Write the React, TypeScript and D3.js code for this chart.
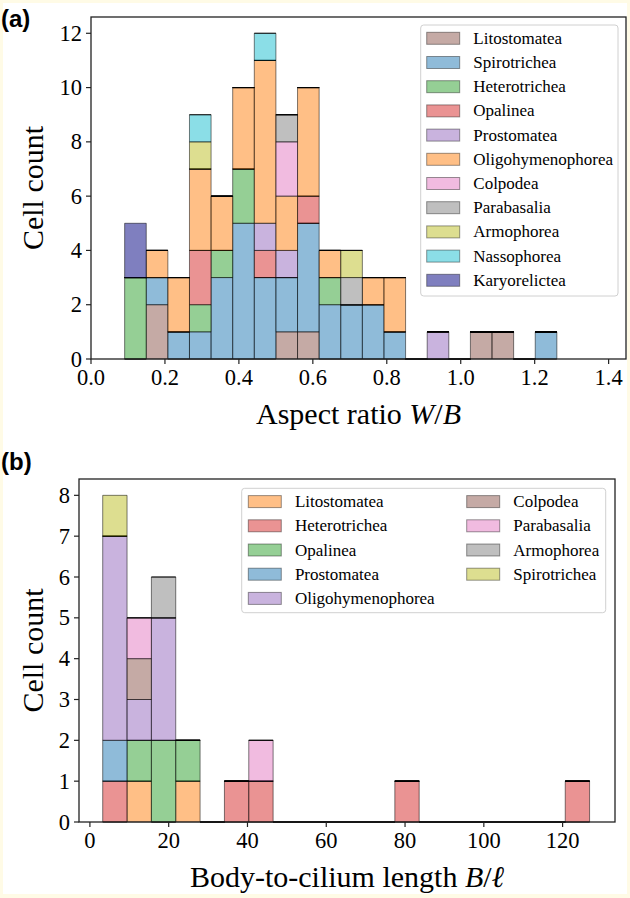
import * as d3 from 'd3'

const W = 630
const H = 898
const SERIF = "'Liberation Serif', 'DejaVu Serif', serif"
const SANS = "'Liberation Sans', Arial, sans-serif"

// panel (a): aspect ratio histogram, 20 bins
const A_CLASSES = [
  'Litostomatea', 'Spirotrichea', 'Heterotrichea', 'Opalinea', 'Prostomatea',
  'Oligohymenophorea', 'Colpodea', 'Parabasalia', 'Armophorea', 'Nassophorea', 'Karyorelictea',
]
const A_COLORS = [
  '#8c564b', '#1f77b4', '#2ca02c', '#d62728', '#9467bd',
  '#ff7f0e', '#e377c2', '#7f7f7f', '#bcbd22', '#17becf', '#000080',
]
const A_COUNTS = [
  [0, 2, 0, 0, 0, 0, 0, 1, 1, 0, 0, 0, 0, 0, 0, 0, 1, 1, 0, 0],
  [0, 1, 1, 1, 3, 5, 3, 2, 4, 2, 2, 2, 1, 0, 0, 0, 0, 0, 0, 1],
  [3, 0, 0, 1, 1, 2, 0, 0, 0, 1, 0, 0, 0, 0, 0, 0, 0, 0, 0, 0],
  [0, 0, 0, 2, 0, 0, 1, 0, 1, 0, 0, 0, 0, 0, 0, 0, 0, 0, 0, 0],
  [0, 0, 0, 0, 0, 0, 1, 1, 0, 0, 0, 0, 0, 0, 1, 0, 0, 0, 0, 0],
  [0, 1, 2, 3, 2, 3, 6, 2, 4, 1, 0, 1, 2, 0, 0, 0, 0, 0, 0, 0],
  [0, 0, 0, 0, 0, 0, 0, 2, 0, 0, 0, 0, 0, 0, 0, 0, 0, 0, 0, 0],
  [0, 0, 0, 0, 0, 0, 0, 1, 0, 0, 1, 0, 0, 0, 0, 0, 0, 0, 0, 0],
  [0, 0, 0, 1, 0, 0, 0, 0, 0, 0, 1, 0, 0, 0, 0, 0, 0, 0, 0, 0],
  [0, 0, 0, 1, 0, 0, 1, 0, 0, 0, 0, 0, 0, 0, 0, 0, 0, 0, 0, 0],
  [2, 0, 0, 0, 0, 0, 0, 0, 0, 0, 0, 0, 0, 0, 0, 0, 0, 0, 0, 0],
]
const A_BIN_RANGE: [number, number] = [0.091, 1.26]
const A_XTICKS = [0, 0.2, 0.4, 0.6, 0.8, 1.0, 1.2, 1.4]
const A_YTICKS = [0, 2, 4, 6, 8, 10, 12]

// panel (b): body-to-cilium length histogram, 20 bins
const B_CLASSES = [
  'Litostomatea', 'Heterotrichea', 'Opalinea', 'Prostomatea', 'Oligohymenophorea',
  'Colpodea', 'Parabasalia', 'Armophorea', 'Spirotrichea',
]
const B_COLORS = [
  '#ff7f0e', '#d62728', '#2ca02c', '#1f77b4', '#9467bd',
  '#8c564b', '#e377c2', '#7f7f7f', '#bcbd22',
]
const B_COUNTS = [
  [0, 1, 0, 1, 0, 0, 0, 0, 0, 0, 0, 0, 0, 0, 0, 0, 0, 0, 0, 0],
  [1, 0, 0, 0, 0, 1, 1, 0, 0, 0, 0, 0, 1, 0, 0, 0, 0, 0, 0, 1],
  [0, 1, 2, 1, 0, 0, 0, 0, 0, 0, 0, 0, 0, 0, 0, 0, 0, 0, 0, 0],
  [1, 0, 0, 0, 0, 0, 0, 0, 0, 0, 0, 0, 0, 0, 0, 0, 0, 0, 0, 0],
  [5, 1, 3, 0, 0, 0, 0, 0, 0, 0, 0, 0, 0, 0, 0, 0, 0, 0, 0, 0],
  [0, 1, 0, 0, 0, 0, 0, 0, 0, 0, 0, 0, 0, 0, 0, 0, 0, 0, 0, 0],
  [0, 1, 0, 0, 0, 0, 1, 0, 0, 0, 0, 0, 0, 0, 0, 0, 0, 0, 0, 0],
  [0, 0, 1, 0, 0, 0, 0, 0, 0, 0, 0, 0, 0, 0, 0, 0, 0, 0, 0, 0],
  [1, 0, 0, 0, 0, 0, 0, 0, 0, 0, 0, 0, 0, 0, 0, 0, 0, 0, 0, 0],
]
const B_BIN_RANGE: [number, number] = [3.25, 126.85]
const B_XTICKS = [0, 20, 40, 60, 80, 100, 120]
const B_YTICKS = [0, 1, 2, 3, 4, 5, 6, 7, 8]

interface Frame { left: number; right: number; top: number; bottom: number }
interface LegendSpec { x: number; y: number; w: number; h: number; rows: number; colX: number[] }

interface PanelProps {
  frame: Frame
  xDomain: [number, number]
  yDomain: [number, number]
  classes: string[]
  colors: string[]
  counts: number[][]
  binRange: [number, number]
  xTicks: number[]
  yTicks: number[]
  xFormat: (v: number) => string
  xLabel: React.ReactNode
  legend: LegendSpec
  tag: string
  tagY: number
}

const TICK = 5
const TICK_FONT = 22.5
const LABEL_FONT = 30
const LEGEND_FONT = 17
const ROW_H = 24.2

function Panel(p: PanelProps) {
  const { frame: f } = p
  const x = d3.scaleLinear().domain(p.xDomain).range([f.left, f.right])
  const y = d3.scaleLinear().domain(p.yDomain).range([f.bottom, f.top])
  const nBins = p.counts[0].length
  const edges = d3.range(nBins + 1).map((i) => p.binRange[0] + ((p.binRange[1] - p.binRange[0]) * i) / nBins)

  const rows = d3.range(nBins).map((i) => {
    const r: Record<string, number> = {}
    p.classes.forEach((c, k) => (r[c] = p.counts[k][i]))
    return r
  })
  const stacked = d3.stack<Record<string, number>>().keys(p.classes)(rows)

  return (
    <g>
      <text x={1} y={p.tagY} fontFamily={SANS} fontWeight="bold" fontSize={24} fill="#000">{p.tag}</text>
      {/* stacked bars, one layer per class, zero-height ones still stroke the top */}
      {stacked.map((layer, k) => (
        <g key={k}>
          {layer.map((d, i) => {
            const x0 = x(edges[i])
            const x1 = x(edges[i + 1])
            const y0 = y(d[0])
            const y1 = y(d[1])
            return (
              <path
                key={i}
                d={`M${x0},${y0}V${y1}H${x1}V${y0}Z`}
                fill={p.colors[k]}
                fillOpacity={0.5}
                stroke="#000"
                strokeOpacity={0.5}
                strokeWidth={1}
              />
            )
          })}
        </g>
      ))}
      {/* legend */}
      <g>
        <rect x={p.legend.x} y={p.legend.y} width={p.legend.w} height={p.legend.h} rx={3}
          fill="#fff" fillOpacity={0.8} stroke="#d0d0d0" strokeWidth={1} />
        {p.classes.map((c, k) => {
          const col = Math.floor(k / p.legend.rows)
          const row = k % p.legend.rows
          const cy = p.legend.y + 13.3 + row * ROW_H
          const px = p.legend.colX[col]
          return (
            <g key={c}>
              <rect x={px} y={cy - 6} width={33} height={12} fill={p.colors[k]} fillOpacity={0.5}
                stroke="#000" strokeOpacity={0.4} strokeWidth={1} />
              <text x={px + 46.6} y={cy} dominantBaseline="central" fontFamily={SERIF} fontSize={LEGEND_FONT} fill="#000">{c}</text>
            </g>
          )
        })}
      </g>
      {/* frame */}
      <rect x={f.left} y={f.top} width={f.right - f.left} height={f.bottom - f.top} fill="none" stroke="#222" strokeWidth={1.3} />
      {/* y axis */}
      {p.yTicks.map((v) => (
        <g key={v}>
          <line x1={f.left - TICK} x2={f.left} y1={y(v)} y2={y(v)} stroke="#222" strokeWidth={1.2} />
          <text x={f.left - TICK - 4} y={y(v)} textAnchor="end" dominantBaseline="central"
            fontFamily={SERIF} fontSize={TICK_FONT} fill="#000">{v}</text>
        </g>
      ))}
      {/* x axis */}
      {p.xTicks.map((v) => (
        <g key={v}>
          <line x1={x(v)} x2={x(v)} y1={f.bottom} y2={f.bottom + TICK} stroke="#222" strokeWidth={1.2} />
          <text x={x(v)} y={f.bottom + 26} textAnchor="middle" fontFamily={SERIF} fontSize={TICK_FONT} fill="#000">{p.xFormat(v)}</text>
        </g>
      ))}
      <text x={(f.left + f.right) / 2} y={f.bottom + 65} textAnchor="middle" fontFamily={SERIF} fontSize={LABEL_FONT} fill="#000">{p.xLabel}</text>
      <text transform={`translate(32,${(f.top + f.bottom) / 2}) rotate(-90)`} textAnchor="middle" dominantBaseline="central"
        fontFamily={SERIF} fontSize={LABEL_FONT} fill="#000">Cell count</text>
    </g>
  )
}

export default function App() {
  return (
    <svg width={W} height={H} style={{ position: 'absolute', left: 0, top: 0, display: 'block' }}>
      <rect x={0} y={0} width={W} height={H} fill="#fffbe6" />
      <rect x={3} y={3} width={W - 6} height={H - 7} fill="#fff" />
      <Panel
        frame={{ left: 91, right: 626, top: 17, bottom: 359 }}
        xDomain={[0, 1.447]}
        yDomain={[0, 12.6]}
        classes={A_CLASSES}
        colors={A_COLORS}
        counts={A_COUNTS}
        binRange={A_BIN_RANGE}
        xTicks={A_XTICKS}
        yTicks={A_YTICKS}
        xFormat={d3.format('.1f')}
        xLabel={<>Aspect ratio <tspan fontStyle="italic">W</tspan>/<tspan fontStyle="italic">B</tspan></>}
        legend={{ x: 420.7, y: 25, w: 197.3, h: 271, rows: 11, colX: [426.7] }}
        tag="(a)"
        tagY={27}
      />
      <Panel
        frame={{ left: 79, right: 615, top: 479, bottom: 822 }}
        xDomain={[-2.77, 133.3]}
        yDomain={[0, 8.4]}
        classes={B_CLASSES}
        colors={B_COLORS}
        counts={B_COUNTS}
        binRange={B_BIN_RANGE}
        xTicks={B_XTICKS}
        yTicks={B_YTICKS}
        xFormat={(v) => String(v)}
        xLabel={<>Body-to-cilium length <tspan fontStyle="italic">B</tspan>/<tspan fontStyle="italic">ℓ</tspan></>}
        legend={{ x: 241.7, y: 488.3, w: 364, h: 124.4, rows: 5, colX: [248.3, 466.7] }}
        tag="(b)"
        tagY={470}
      />
    </svg>
  )
}
